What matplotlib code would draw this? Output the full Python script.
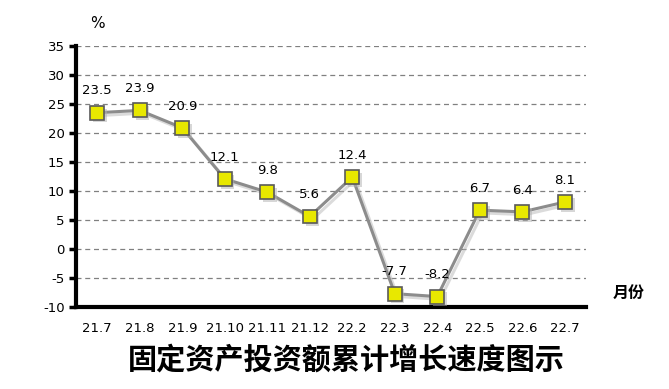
import numpy as np
import matplotlib.pyplot as plt
import matplotlib.patheffects as pe

months = ['21.7', '21.8', '21.9', '21.10', '21.11', '21.12', '22.2',
          '22.3', '22.4', '22.5', '22.6', '22.7']
growth = [23.5, 23.9, 20.9, 12.1, 9.8, 5.6, 12.4, -7.7, -8.2, 6.7, 6.4, 8.1]
yticks = [-10, -5, 0, 5, 10, 15, 20, 25, 30, 35]

plt.rcParams['font.family'] = ['DejaVu Sans', 'Noto Sans CJK SC']
plt.rcParams['axes.unicode_minus'] = False

fig = plt.figure(figsize=(6.69, 3.89), dpi=100)
ax = fig.add_axes([0.1136, 0.2108, 0.7624, 0.6709])

x = np.arange(len(months))
# line with a soft drop shadow
ax.plot(x, growth, color='#8c8c8c', lw=2.2, zorder=3,
        path_effects=[pe.SimpleLineShadow(offset=(2, -2), shadow_color='#b0b0b0', alpha=0.45),
                      pe.Normal()])
# square markers
ax.plot(x, growth, ls='none', marker='s', markersize=10,
        markerfacecolor='#e8e800', markeredgecolor='#5a5a5a', markeredgewidth=1.2,
        path_effects=[pe.SimplePatchShadow(offset=(2, -2), shadow_rgbFace='#b0b0b0', alpha=0.5),
                      pe.Normal()], zorder=4)

for xi, v in zip(x, growth):
    ax.annotate(f'{v}', (xi, v), xytext=(0, 11), textcoords='offset points',
                ha='center', va='bottom', fontsize=9.5)

ax.set_xlim(-0.5, len(months) - 0.5)
ax.set_ylim(-10, 35)
ax.set_yticks(yticks)
ax.set_xticks(x)
ax.set_xticklabels(months)
ax.yaxis.grid(True, linestyle=(0, (4, 3)), color='#808080', lw=0.9)
ax.set_axisbelow(True)
for s in ['top', 'right']:
    ax.spines[s].set_visible(False)
for s in ['left', 'bottom']:
    ax.spines[s].set_linewidth(3)
ax.tick_params(axis='y', length=5, width=2.5, labelsize=9.5, pad=3)
ax.tick_params(axis='x', length=0, labelsize=9.5, pad=11)

fig.text(0.145, 0.94, '%', fontsize=11, ha='center', va='center')
fig.text(0.94, 0.247, '月份', fontsize=11.5, fontweight='bold', ha='center',
         va='center', family=['Noto Sans CJK SC'])
fig.text(0.518, 0.075, '固定资产投资额累计增长速度图示', fontsize=21, fontweight='bold',
         ha='center', va='center', family=['Noto Sans CJK SC'])

fig.savefig('out.png', dpi=100)
